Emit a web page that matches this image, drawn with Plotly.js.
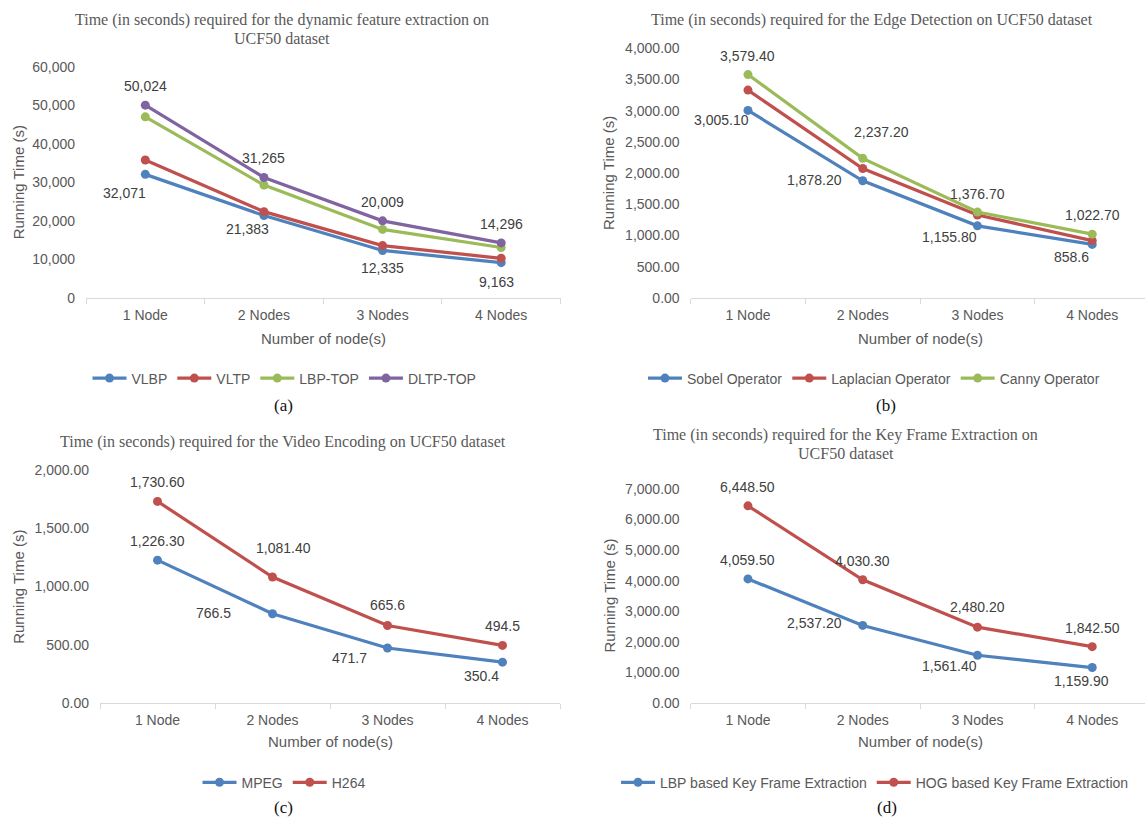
<!DOCTYPE html>
<html>
<head>
<meta charset="utf-8">
<script src="https://cdn.plot.ly/plotly-3.0.1.min.js"></script>
<style>html,body{margin:0;padding:0;background:#fff;}#chart{width:1145px;height:817px;}</style>
</head>
<body>
<div id="chart"></div>
<script>
// ---------- data ----------
const nodes = ['1 Node', '2 Nodes', '3 Nodes', '4 Nodes'];

// (a) dynamic feature extraction
const vlbp = [32071, 21383, 12335, 9163];
const vltp = [35800, 22400, 13600, 10300];
const lbpTop = [47000, 29300, 17800, 13100];
const dltpTop = [50024, 31265, 20009, 14296];
const vlbpLabels = ['32,071', '21,383', '12,335', '9,163'];
const dltpLabels = ['50,024', '31,265', '20,009', '14,296'];

// (b) edge detection
const sobel = [3005.1, 1878.2, 1155.8, 858.6];
const laplacian = [3330, 2075, 1330, 920];
const canny = [3579.4, 2237.2, 1376.7, 1022.7];
const sobelLabels = ['3,005.10', '1,878.20', '1,155.80', '858.6'];
const cannyLabels = ['3,579.40', '2,237.20', '1,376.70', '1,022.70'];

// (c) video encoding
const mpeg = [1226.3, 766.5, 471.7, 350.4];
const h264 = [1730.6, 1081.4, 665.6, 494.5];
const mpegLabels = ['1,226.30', '766.5', '471.7', '350.4'];
const h264Labels = ['1,730.60', '1,081.40', '665.6', '494.5'];

// (d) key frame extraction
const lbpKey = [4059.5, 2537.2, 1561.4, 1159.9];
const hogKey = [6448.5, 4030.3, 2480.2, 1842.5];
const lbpKeyLabels = ['4,059.50', '2,537.20', '1,561.40', '1,159.90'];
const hogKeyLabels = ['6,448.50', '4,030.30', '2,480.20', '1,842.50'];

const titleLines = [
  ['Time (in seconds) required for the dynamic feature extraction on', 'UCF50 dataset'],
  ['Time (in seconds) required for the Edge Detection on UCF50 dataset'],
  ['Time (in seconds) required for the Video Encoding on UCF50 dataset'],
  ['Time (in seconds) required for the Key Frame Extraction on', 'UCF50 dataset']
];
const panelLabels = ['(a)', '(b)', '(c)', '(d)'];
const xTitle = 'Number of node(s)';
const yTitle = 'Running Time (s)';

// ---------- styles ----------
const BLUE = '#4F81BD', RED = '#C0504D', GREEN = '#9BBB59', PURPLE = '#8064A2';
const SANS = 'Liberation Sans, Arial, sans-serif';
const SERIF = 'Liberation Serif, Times New Roman, serif';
const GREY = '#595959';

function line(name, y, color, xa, ya, leg) {
  return {
    type: 'scatter', mode: 'lines+markers', name: name, x: nodes, y: y,
    xaxis: xa, yaxis: ya, legend: leg,
    line: {color: color, width: 3.2},
    marker: {color: color, size: 9},
    hoverinfo: 'x+y'
  };
}

const data = [
  line('VLBP', vlbp, BLUE, 'x', 'y', 'legend'),
  line('VLTP', vltp, RED, 'x', 'y', 'legend'),
  line('LBP-TOP', lbpTop, GREEN, 'x', 'y', 'legend'),
  line('DLTP-TOP', dltpTop, PURPLE, 'x', 'y', 'legend'),
  line('Sobel Operator', sobel, BLUE, 'x2', 'y2', 'legend2'),
  line('Laplacian Operator', laplacian, RED, 'x2', 'y2', 'legend2'),
  line('Canny Operator', canny, GREEN, 'x2', 'y2', 'legend2'),
  line('MPEG', mpeg, BLUE, 'x3', 'y3', 'legend3'),
  line('H264', h264, RED, 'x3', 'y3', 'legend3'),
  line('LBP based Key Frame Extraction', lbpKey, BLUE, 'x4', 'y4', 'legend4'),
  line('HOG based Key Frame Extraction', hogKey, RED, 'x4', 'y4', 'legend4')
];

// label offsets in pixels [dx, dy(down)]
const labelSets = [
  {y: dltpTop, t: dltpLabels, xr: 'x', yr: 'y', off: [[0,-19],[0,-19],[0,-19],[0,-19]]},
  {y: vlbp, t: vlbpLabels, xr: 'x', yr: 'y', off: [[-21,19],[-16,13],[0,18],[-5,19]]},
  {y: canny, t: cannyLabels, xr: 'x2', yr: 'y2', off: [[0,-19],[19,-26],[0,-18],[0,-19]]},
  {y: sobel, t: sobelLabels, xr: 'x2', yr: 'y2', off: [[-26,10],[-48,-1],[-28,11],[-21,13]]},
  {y: h264, t: h264Labels, xr: 'x3', yr: 'y3', off: [[0,-19],[11,-29],[0,-20],[0,-19]]},
  {y: mpeg, t: mpegLabels, xr: 'x3', yr: 'y3', off: [[0,-19],[-59,-1],[-38,10],[-21,14]]},
  {y: hogKey, t: hogKeyLabels, xr: 'x4', yr: 'y4', off: [[0,-19],[0,-19],[0,-20],[0,-19]]},
  {y: lbpKey, t: lbpKeyLabels, xr: 'x4', yr: 'y4', off: [[0,-19],[-48,-2],[-28,11],[-11,13]]}
];

const annotations = [];
labelSets.forEach(s => {
  nodes.forEach((n, i) => {
    annotations.push({
      x: n, y: s.y[i], xref: s.xr, yref: s.yr, text: s.t[i], showarrow: false,
      xanchor: 'center', yanchor: 'middle', xshift: s.off[i][0], yshift: -s.off[i][1],
      font: {family: SANS, size: 14, color: '#404040'}
    });
  });
});

function paperText(text, x, y, font, extra) {
  annotations.push(Object.assign({
    text: text, x: x, y: y, xref: 'paper', yref: 'paper', showarrow: false,
    xanchor: 'center', yanchor: 'middle', font: font
  }, extra || {}));
}
const W = 1145, H = 817;
const px = v => v / W, py = v => 1 - v / H;

const titleFont = {family: SERIF, size: 16, color: GREY};
const titlePos = [[282.4, 20], [872, 20], [283, 441.7], [845.7, 435]];
titleLines.forEach((lines, k) => {
  lines.forEach((ln, j) => {
    paperText(ln, px(titlePos[k][0]), py(titlePos[k][1] + j * 18.3), titleFont);
  });
});

const axFont = {family: SANS, size: 15, color: GREY};
paperText(xTitle, px(323.5), py(338), axFont);
paperText(xTitle, px(920), py(338), axFont);
paperText(xTitle, px(330), py(741.7), axFont);
paperText(xTitle, px(920), py(741.7), axFont);
paperText(yTitle, px(18.3), py(182), axFont, {textangle: -90});
paperText(yTitle, px(608), py(173), axFont, {textangle: -90});
paperText(yTitle, px(18.2), py(586.6), axFont, {textangle: -90});
paperText(yTitle, px(608.6), py(596), axFont, {textangle: -90});

const panFont = {family: SERIF, size: 17, color: '#111'};
paperText(panelLabels[0], px(283), py(406), panFont);
paperText(panelLabels[1], px(886), py(406), panFont);
paperText(panelLabels[2], px(283), py(807), panFont);
paperText(panelLabels[3], px(887), py(807), panFont);

function xax(domain, range, anchor) {
  return {
    domain: domain, range: range, anchor: anchor, type: 'category',
    showline: true, linecolor: '#D9D9D9', linewidth: 1,
    ticks: 'outside', tickson: 'boundaries', ticklen: 5, tickcolor: '#D9D9D9',
    ticklabelstandoff: 4,
    showgrid: false, zeroline: false, fixedrange: true,
    tickfont: {family: SANS, size: 14, color: GREY}
  };
}
function yax(domain, range, dtick, fmt, anchor) {
  return {
    domain: domain, range: range, dtick: dtick, tickformat: fmt, anchor: anchor,
    showline: false, showgrid: false, zeroline: false, ticks: '',
    ticklabelstandoff: 10, fixedrange: true,
    tickfont: {family: SANS, size: 14, color: GREY}
  };
}
function leg(x, y) {
  return {
    orientation: 'h', x: x, y: y, xanchor: 'center', yanchor: 'middle',
    itemwidth: 34,
    bgcolor: 'rgba(0,0,0,0)', font: {family: SANS, size: 14, color: GREY},
    itemclick: false, itemdoubleclick: false
  };
}

const layout = {
  width: W, height: H,
  margin: {l: 0, r: 0, t: 0, b: 0},
  paper_bgcolor: '#fff', plot_bgcolor: '#fff',
  showlegend: true,
  xaxis: xax([px(86), px(560.5)], [-0.5, 3.5], 'y'),
  yaxis: yax([py(298), py(66.7)], [0, 60000], 10000, ',d', 'x'),
  xaxis2: xax([px(690.6), 1], [-0.5, 3.46], 'y2'),
  yaxis2: yax([py(298), py(48.3)], [0, 4000], 500, ',.2f', 'x2'),
  xaxis3: xax([px(100), px(560)], [-0.5, 3.5], 'y3'),
  yaxis3: yax([py(703), py(470)], [0, 2000], 500, ',.2f', 'x3'),
  xaxis4: xax([px(690.6), 1], [-0.5, 3.46], 'y4'),
  yaxis4: yax([py(703), py(489)], [0, 7000], 1000, ',.2f', 'x4'),
  legend: leg(px(284.5), py(378.5)),
  legend2: leg(px(874), py(378.5)),
  legend3: leg(px(284), py(782.7)),
  legend4: leg(px(875), py(782.7)),
  annotations: annotations
};

Plotly.newPlot('chart', data, layout, {displayModeBar: false, staticPlot: true});
</script>
</body>
</html>
